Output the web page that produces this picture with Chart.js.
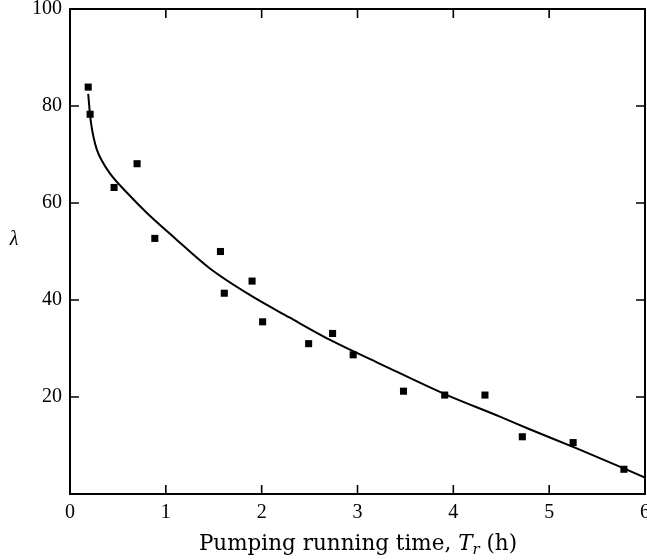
<!DOCTYPE html>
<html>
<head>
<meta charset="utf-8">
<script src="https://cdn.jsdelivr.net/npm/chart.js@4.4.1/dist/chart.umd.min.js"></script>
<style>
  html, body { margin: 0; padding: 0; background: #fff; overflow: hidden; }
  #wrap { width: 650px; height: 560px; }
</style>
</head>
<body>
<div id="wrap"><canvas id="lambdaChart"></canvas></div>
<script>
// measured points (pumping time in h, lambda)
const runTimes = [0.19, 0.21, 0.46, 0.70, 0.885, 1.57, 1.61, 1.90, 2.01, 2.49, 2.74, 2.955, 3.48, 3.91, 4.33, 4.72, 5.25, 5.78];
const lambdaValues = [83.9, 78.3, 63.2, 68.1, 52.7, 50.0, 41.4, 43.9, 35.5, 31.0, 33.1, 28.7, 21.2, 20.4, 20.4, 11.8, 10.6, 5.1];

// fitted curve
const fitTimes = [0.19, 0.21, 0.22, 0.245, 0.28, 0.33, 0.42, 0.6, 0.8, 1.08, 1.46, 1.88, 2.29, 2.74, 3.23, 3.91, 4.48, 4.79, 5.3, 6.0];
const fitValues = [82.5, 78, 76.4, 73.6, 71, 68.8, 66, 62, 58, 53, 46.5, 41, 36.4, 31.5, 26.9, 20.6, 16, 13.4, 9.3, 3.4];

const xTicks = [0, 1, 2, 3, 4, 5, 6];
const yTicks = [20, 40, 60, 80, 100];

const serif = '"Liberation Serif", "DejaVu Serif", serif';
const wideSerif = '"DejaVu Serif", "Liberation Serif", serif';

// frame + inward ticks on all four sides, plus the axis titles
const framePlugin = {
    id: 'frame',
    afterDraw(chart) {
        const { ctx, chartArea: a, scales } = chart;
        const len = 9;
        ctx.save();
        ctx.strokeStyle = '#000';
        ctx.lineWidth = 2;
        ctx.strokeRect(a.left, a.top, a.right - a.left, a.bottom - a.top);

        ctx.lineWidth = 1.6;
        ctx.beginPath();
        xTicks.slice(1, -1).forEach(v => {
            const px = scales.x.getPixelForValue(v);
            ctx.moveTo(px, a.bottom); ctx.lineTo(px, a.bottom - len);
            ctx.moveTo(px, a.top); ctx.lineTo(px, a.top + len);
        });
        yTicks.slice(0, -1).forEach(v => {
            const py = scales.y.getPixelForValue(v);
            ctx.moveTo(a.left, py); ctx.lineTo(a.left + len, py);
            ctx.moveTo(a.right, py); ctx.lineTo(a.right - len, py);
        });
        ctx.stroke();

        // x title with italic T and subscript r
        ctx.fillStyle = '#000';
        ctx.textBaseline = 'alphabetic';
        const parts = [
            { t: 'Pumping running time, ', f: '21.5px ' + wideSerif, dy: 0 },
            { t: 'T', f: 'italic 21.5px ' + wideSerif, dy: 0 },
            { t: 'r', f: 'italic 15px ' + wideSerif, dy: 4 },
            { t: ' (h)', f: '21.5px ' + wideSerif, dy: 0 }
        ];
        let total = 0;
        parts.forEach(p => { ctx.font = p.f; p.w = ctx.measureText(p.t).width; total += p.w; });
        let x = 358 - total / 2;
        const base = 550;
        parts.forEach(p => {
            ctx.font = p.f;
            ctx.fillText(p.t, x, base + p.dy);
            x += p.w;
        });

        // y title
        ctx.font = 'italic 20px ' + serif;
        ctx.textAlign = 'center';
        ctx.textBaseline = 'middle';
        ctx.fillText('λ', 14, 240);
        ctx.restore();
    }
};

new Chart(document.getElementById('lambdaChart'), {
    type: 'scatter',
    data: {
        datasets: [{
            type: 'line',
            label: 'fit',
            data: fitTimes.map((t, i) => ({ x: t, y: fitValues[i] })),
            borderColor: '#000',
            borderWidth: 2,
            pointRadius: 0,
            cubicInterpolationMode: 'monotone',
            fill: false
        }, {
            label: 'measured',
            data: runTimes.map((t, i) => ({ x: t, y: lambdaValues[i] })),
            pointStyle: 'rect',
            pointRadius: 5,
            backgroundColor: '#000',
            borderColor: '#000',
            borderWidth: 0
        }]
    },
    options: {
        responsive: true,
        maintainAspectRatio: false,
        animation: false,
        layout: { padding: { left: 0, right: 0, top: 9, bottom: 0 } },
        plugins: {
            legend: { display: false },
            tooltip: { enabled: false }
        },
        scales: {
            x: {
                type: 'linear',
                min: 0,
                max: 6,
                afterFit(scale) {
                    scale.height = 66;
                    scale.paddingLeft = 0;
                    scale.paddingRight = 0;
                },
                afterBuildTicks(scale) {
                    scale.ticks = xTicks.map(v => ({ value: v }));
                },
                grid: { display: false, drawTicks: false },
                border: { display: false },
                ticks: {
                    padding: 7,
                    color: '#000',
                    font: { family: serif, size: 20 }
                }
            },
            y: {
                min: 0,
                max: 100,
                afterFit(scale) {
                    scale.width = 70;
                    scale.paddingTop = 0;
                    scale.paddingBottom = 0;
                },
                afterBuildTicks(scale) {
                    scale.ticks = yTicks.map(v => ({ value: v }));
                },
                grid: { display: false, drawTicks: false },
                border: { display: false },
                ticks: {
                    padding: 8,
                    color: '#000',
                    font: { family: serif, size: 20 }
                }
            }
        }
    },
    plugins: [framePlugin]
});
</script>
</body>
</html>
